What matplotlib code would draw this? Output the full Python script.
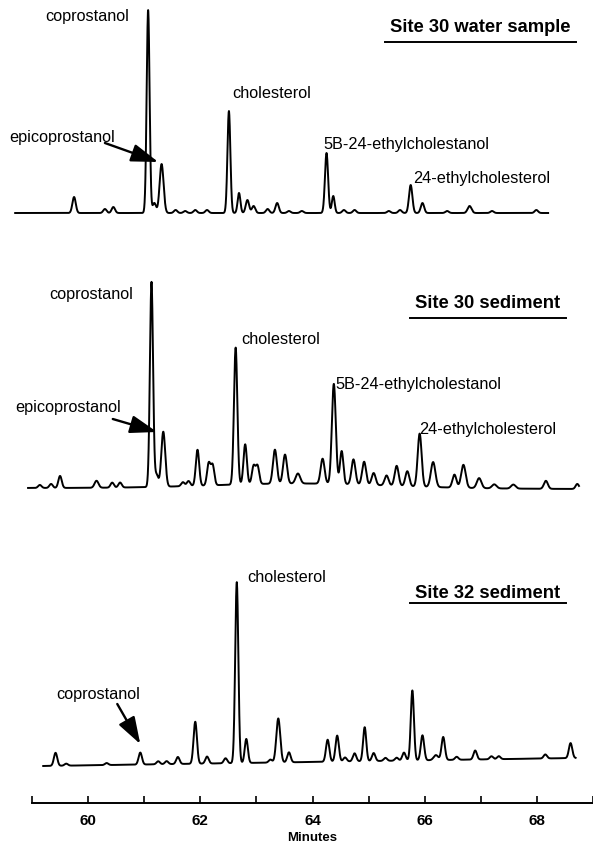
import numpy as np
import matplotlib
matplotlib.use("Agg")
import matplotlib.pyplot as plt
from matplotlib.lines import Line2D

plt.rcParams['font.family'] = ['Liberation Sans', 'DejaVu Sans']

# Peak tables: retention time (min), height, width (sigma, min)
# Site 30 water sample
w_time = [59.75, 60.30, 60.45, 61.07, 61.18, 61.31, 61.56, 61.73, 61.91, 62.12,
          62.51, 62.69, 62.84, 62.95, 63.20, 63.37, 63.58, 63.81, 64.25, 64.37,
          64.56, 64.75, 65.36, 65.56, 65.75, 65.96, 66.40, 66.80, 67.20, 67.99]
w_height = [16, 4, 6, 203, 10, 49, 3, 2, 3, 3,
            102, 20, 13, 7, 4, 10, 2, 2, 60, 17,
            3, 3, 2, 3, 28, 10, 2, 7, 2, 3]
w_sigma = [0.03, 0.03, 0.03, 0.026, 0.03, 0.035, 0.03, 0.03, 0.03, 0.03,
           0.026, 0.025, 0.03, 0.03, 0.03, 0.03, 0.03, 0.03, 0.028, 0.025,
           0.03, 0.03, 0.03, 0.03, 0.03, 0.03, 0.03, 0.035, 0.03, 0.03]

# Site 30 sediment
s30_time = [59.14, 59.34, 59.50, 60.15, 60.43, 60.57, 61.13, 61.22, 61.34, 61.69,
            61.79, 61.95, 62.15, 62.22, 62.63, 62.80, 62.95, 63.02, 63.33, 63.51,
            63.74, 64.18, 64.38, 64.52, 64.73, 64.92, 65.09, 65.32, 65.50, 65.69,
            65.91, 66.15, 66.53, 66.69, 66.97, 67.24, 67.58, 68.16, 68.72, 63.80]
s30_height = [3, 4, 12, 7, 5, 5, 205, 12, 55, 4,
              5, 36, 22, 20, 137, 40, 18, 18, 34, 29,
              10, 25, 100, 33, 25, 23, 12, 10, 20, 15,
              53, 25, 13, 23, 10, 4, 4, 8, 5, 5]
s30_sigma = [0.03, 0.03, 0.03, 0.035, 0.03, 0.03, 0.028, 0.03, 0.035, 0.03,
             0.03, 0.03, 0.03, 0.03, 0.03, 0.03, 0.03, 0.03, 0.035, 0.035,
             0.04, 0.035, 0.035, 0.03, 0.035, 0.035, 0.035, 0.035, 0.035, 0.035,
             0.035, 0.04, 0.035, 0.04, 0.04, 0.04, 0.04, 0.035, 0.03, 1.6]

# Site 32 sediment
s32_time = [59.42, 59.61, 60.33, 60.93, 61.25, 61.40, 61.60, 61.91, 62.12, 62.45,
            62.65, 62.82, 63.25, 63.39, 63.58, 64.27, 64.44, 64.58, 64.75, 64.93,
            65.09, 65.30, 65.50, 65.63, 65.78, 65.96, 66.20, 66.33, 66.57, 66.90,
            67.19, 67.32, 68.15, 68.60]
s32_height = [13, 2, 2, 12, 3, 3, 7, 42, 7, 5,
              181, 24, 3, 44, 10, 22, 26, 4, 8, 34,
              8, 3, 3, 8, 70, 25, 5, 23, 3, 9,
              3, 3, 4, 15]
s32_sigma = [0.03, 0.03, 0.03, 0.03, 0.03, 0.03, 0.03, 0.03, 0.03, 0.03,
             0.028, 0.028, 0.03, 0.035, 0.03, 0.03, 0.03, 0.03, 0.03, 0.028,
             0.03, 0.03, 0.03, 0.03, 0.028, 0.03, 0.04, 0.03, 0.03, 0.03,
             0.03, 0.03, 0.03, 0.03]

trace_span = [(58.70, 68.20), (58.93, 68.75), (59.20, 68.69)]
baseline_drift = [(0, 0), (-1, -2), (0, 8)]  # baseline level at start / end of trace

sample_names = ["Site 30 water sample", "Site 30 sediment", "Site 32 sediment"]

# peak labels: (text, time, level)
labels_w = [("coprostanol", 59.23, 197), ("epicoprostanol", 58.59, 76),
            ("cholesterol", 62.57, 120), ("5B-24-ethylcholestanol", 64.19, 69),
            ("24-ethylcholesterol", 65.79, 36)]
labels_s30 = [("coprostanol", 59.30, 194), ("epicoprostanol", 58.70, 80),
              ("cholesterol", 62.73, 148), ("5B-24-ethylcholestanol", 64.40, 103),
              ("24-ethylcholesterol", 65.90, 58)]
labels_s32 = [("cholesterol", 62.83, 190), ("coprostanol", 59.43, 72)]

# arrows: (from time, from level, to time, to level)
arrows_w = [(60.30, 70, 61.25, 51)]
arrows_s30 = [(60.44, 68, 61.23, 55)]
arrows_s32 = [(60.52, 62, 60.93, 22)]

title_pos = [(65.38, 186), (65.83, 185), (65.83, 174)]
underline_gap = [15, 16, 11]

xticks_major = [60, 62, 64, 66, 68]
xticks_minor = [59, 61, 63, 65, 67, 69]

W, H = 593, 845
fig = plt.figure(figsize=(W / 100, H / 100), dpi=100)

baselines_px = [214, 488, 767]
px_per_min = (593 - 32) / 10.0
t_left = 59 - 32 / px_per_min

tables = [(w_time, w_height, w_sigma, labels_w, arrows_w),
          (s30_time, s30_height, s30_sigma, labels_s30, arrows_s30),
          (s32_time, s32_height, s32_sigma, labels_s32, arrows_s32)]

titles = []
for i, (tt, hh, ss, labs, arrs) in enumerate(tables):
    b = baselines_px[i]
    ylo, yhi = -15, 212
    ax = fig.add_axes([0, (H - (b - ylo)) / H, 1, (yhi - ylo) / H])
    ax.set_xlim(t_left, 69)
    ax.set_ylim(ylo, yhi)
    ax.axis('off')

    t0, t1 = trace_span[i]
    t = np.linspace(t0, t1, 4000)
    d0, d1 = baseline_drift[i]
    y = d0 + (d1 - d0) * (t - t0) / (t1 - t0)
    for pt, ph, ps in zip(tt, hh, ss):
        y = y + ph * np.exp(-0.5 * ((t - pt) / ps) ** 2)
    ax.plot(t, y, color='black', lw=1.4, solid_joinstyle='round')

    for txt, lx, ly in labs:
        ax.text(lx, ly, txt, fontsize=11.7, ha='left', va='center', color='black')
    for fx, fy, tx, ty in arrs:
        ax.annotate('', xy=(tx, ty), xytext=(fx, fy),
                    arrowprops=dict(arrowstyle='-|>,head_length=1.5,head_width=0.5',
                                    lw=1.7, color='black', shrinkA=0, shrinkB=0),
                    fontsize=11)
    tx, ty = title_pos[i]
    titles.append(ax.text(tx, ty, sample_names[i], fontsize=13.2, fontweight='bold',
                          ha='left', va='center', color='black'))

# time axis at the bottom
axb = fig.add_axes([32 / W, (H - 804) / H, (W - 32) / W, 30 / H])
axb.set_xlim(59, 69)
axb.set_ylim(0, 1)
for side in ['left', 'right', 'top']:
    axb.spines[side].set_visible(False)
axb.spines['bottom'].set_linewidth(1.4)
axb.set_yticks([])
axb.set_xticks(xticks_major)
axb.set_xticks(xticks_minor, minor=True)
axb.set_xticklabels([str(v) for v in xticks_major], fontsize=11, fontweight='bold')
axb.tick_params(axis='x', which='both', direction='in', length=5, width=1.2, pad=7)
axb.set_xlabel('Minutes', fontsize=9.5, fontweight='bold', labelpad=3)
axb.patch.set_visible(False)

# underline the sample names
fig.canvas.draw()
renderer = fig.canvas.get_renderer()
for txt, gap in zip(titles, underline_gap):
    bb = txt.get_window_extent(renderer)
    yc = (bb.y0 + bb.y1) / 2 - gap
    fig.add_artist(Line2D([(bb.x0 - 5) / W, (bb.x1 + 6) / W], [yc / H, yc / H],
                          transform=fig.transFigure, color='black', lw=1.4))

fig.savefig('out.png', dpi=100)
